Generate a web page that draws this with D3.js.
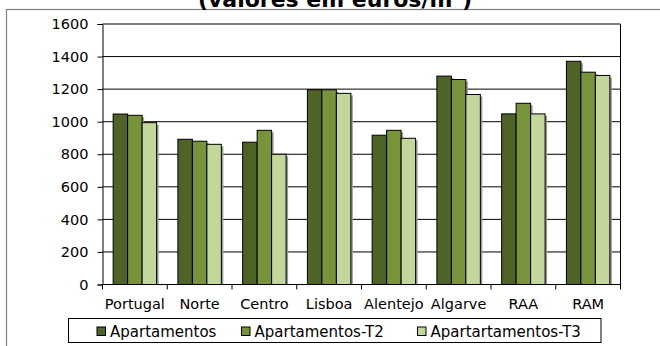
<!DOCTYPE html>
<html>
<head>
<meta charset="utf-8">
<script src="https://cdn.jsdelivr.net/npm/d3@7"></script>
<style>
  html, body { margin: 0; padding: 0; background: #fff; }
  svg { display: block; }
  text { font-family: "DejaVu Sans", Verdana, sans-serif; fill: #000; }
</style>
</head>
<body>
<svg id="chart" width="660" height="346"></svg>
<script>
const title = "(valores em euros/m²)";
const categories = ["Portugal", "Norte", "Centro", "Lisboa", "Alentejo", "Algarve", "RAA", "RAM"];
const seriesNames = ["Apartamentos", "Apartamentos-T2", "Apartartamentos-T3"];
const apartamentos   = [1047, 892, 874, 1196, 917, 1280, 1048, 1371];
const apartamentosT2 = [1039, 880, 947, 1196, 947, 1259, 1113, 1304];
const apartamentosT3 = [ 994, 861, 800, 1174, 898, 1167, 1048, 1284];
const yTicks = [0, 200, 400, 600, 800, 1000, 1200, 1400, 1600];
const colors = ["#4F6228", "#77933C", "#C3D69B"];

const seriesValues = [apartamentos, apartamentosT2, apartamentosT3];
const svg = d3.select("#chart");

// outer chart border (extends past window on right/bottom)
svg.append("rect").attr("x", 6.5).attr("y", 9.5).attr("width", 700).attr("height", 400)
  .attr("fill", "none").attr("stroke", "#808080").attr("stroke-width", 1.2);

// title (clipped at top, as in the reference)
svg.append("text").attr("x", 335).attr("y", 6.5).attr("text-anchor", "middle")
  .attr("font-weight", "bold").attr("font-size", 22).text(title);

const plot = { left: 102.5, right: 620.5, top: 24, bottom: 284.5 };

const x = d3.scaleBand().domain(categories).range([plot.left, plot.right]).padding(0);
const step = x.bandwidth();
const gap = 21.3;
const xs = d3.scaleBand().domain(d3.range(seriesNames.length)).range([gap / 2, step - gap / 2]).padding(0);
const y = d3.scaleLinear().domain([0, 1600]).range([plot.bottom, plot.top]);

// gridlines
svg.append("g").selectAll("line").data(yTicks.filter(d => d > 0)).join("line")
  .attr("x1", plot.left).attr("x2", plot.right)
  .attr("y1", d => y(d)).attr("y2", d => y(d))
  .attr("stroke", "#000").attr("stroke-width", 1);

// right border
svg.append("line").attr("x1", plot.right).attr("x2", plot.right)
  .attr("y1", plot.top).attr("y2", plot.bottom).attr("stroke", "#000");

// bars
const groups = svg.append("g").selectAll("g").data(categories).join("g")
  .attr("transform", d => `translate(${x(d)},0)`);

seriesValues.forEach((vals, si) => {
  groups.append("rect")
    .attr("x", (d, i) => xs(si) + 2)
    .attr("y", (d, i) => y(vals[i]) + 2)
    .attr("width", xs.bandwidth())
    .attr("height", (d, i) => Math.max(0, y(0) - y(vals[i]) - 2))
    .attr("fill", "#9a9a9a");
});
seriesValues.forEach((vals, si) => {
  groups.append("rect")
    .attr("x", (d, i) => xs(si))
    .attr("y", (d, i) => y(vals[i]))
    .attr("width", xs.bandwidth())
    .attr("height", (d, i) => y(0) - y(vals[i]))
    .attr("fill", colors[si]).attr("stroke", "#000").attr("stroke-width", 1);
});

// y axis
const yAxis = d3.axisLeft(y).tickValues(yTicks).tickSize(5).tickPadding(9).tickFormat(d3.format("d"));
const ya = svg.append("g").attr("transform", `translate(${plot.left},0)`).call(yAxis);
ya.select(".domain").attr("stroke", "#000");
ya.selectAll(".tick line").attr("stroke", "#000");
ya.selectAll("text").attr("font-size", 14.5).attr("font-family", "DejaVu Sans").attr("fill", "#000");

// x axis
const xa = svg.append("g").attr("transform", `translate(0,${plot.bottom})`);
xa.append("line").attr("x1", plot.left).attr("x2", plot.right).attr("y1", 0).attr("y2", 0).attr("stroke", "#000");
const boundaries = categories.map(c => x(c)).concat([plot.right]);
xa.selectAll("line.tk").data(boundaries).join("line").attr("class", "tk")
  .attr("x1", d => d).attr("x2", d => d).attr("y1", 0).attr("y2", 5).attr("stroke", "#000");
xa.selectAll("text").data(categories).join("text")
  .attr("x", d => x(d) + step / 2).attr("y", 24.5)
  .attr("text-anchor", "middle").attr("font-size", 14.5).text(d => d);

// legend
const lg = svg.append("g");
lg.append("rect").attr("x", 68.5).attr("y", 318.5).attr("width", 532.5).attr("height", 24)
  .attr("fill", "#fff").attr("stroke", "#000");
const legendX = [97, 241.5, 417.5];
seriesNames.forEach((name, i) => {
  lg.append("rect").attr("x", legendX[i]).attr("y", 327).attr("width", 8.5).attr("height", 8.5)
    .attr("fill", colors[i]).attr("stroke", "#000").attr("stroke-width", 1);
  lg.append("text").attr("x", legendX[i] + 13).attr("y", 336.5).attr("font-size", 15).text(name);
});
</script>
</body>
</html>
